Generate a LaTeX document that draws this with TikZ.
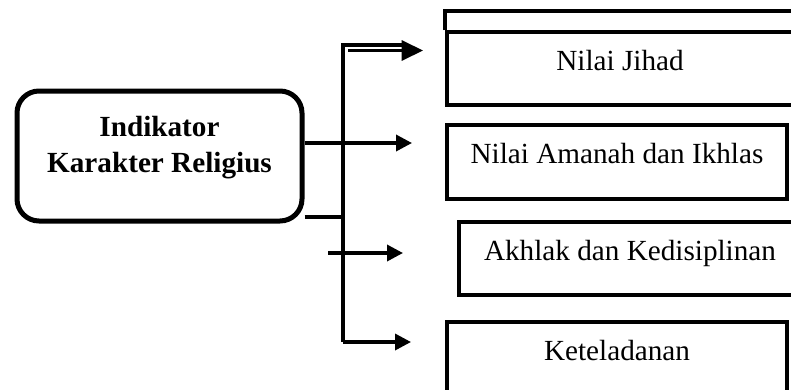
\documentclass[tikz,border=0pt]{standalone}
\usepackage{fontspec}
\setmainfont{Liberation Serif}
\usetikzlibrary{arrows.meta}

\tikzset{
  indbox/.style={draw, line width=3.75pt, rounded corners=16.5pt, minimum width=285*0.75pt, minimum height=130*0.75pt, inner sep=0pt},
  valbox/.style={draw, line width=3pt, inner sep=0pt, text height=15pt, text depth=12.75pt, font=\fontsize{21.9}{27}\selectfont},
  conn/.style={line width=2.6pt, line join=miter},
  arr/.style={conn, -{Triangle[length=12pt,width=12pt]}},
}

\begin{document}
\begin{tikzpicture}[x=0.75pt,y=0.75pt,yscale=-1,xscale=1]
      \clip (0,0) rectangle (791,389);

      % Indikator box
      \node [indbox] (ind) at (159.5,156) {};
      \node [font=\bfseries\fontsize{21.9}{27}\selectfont, align=center] (indtext) at (159.5,148) {Indikator\\Karakter Religius};

      % Value boxes
      \node [valbox, minimum width=346*0.75pt, minimum height=73*0.75pt] (jihad) at (620,68.5) {Nilai Jihad};
      \node [valbox, minimum width=340*0.75pt, minimum height=74*0.75pt] (amanah) at (617,162) {Nilai Amanah dan Ikhlas};
      \node [valbox, minimum width=342*0.75pt, minimum height=73*0.75pt] (akhlak) at (630,258.5) {Akhlak dan Kedisiplinan};
      \node [valbox, minimum width=340*0.75pt, minimum height=74*0.75pt] (teladan) at (617,359) {Keteladanan};
      % strip above Nilai Jihad
      \draw [line width=3pt] (jihad.north west) -- ++(0,-19) -| (jihad.north east);

      % Trunk and arrow ends
      \coordinate (tt) at (343,45);
      \coordinate (tb) at (343,342);
      \coordinate (b1) at (343,217);
      \coordinate (s1) at (348,50.5);
      \coordinate (e1) at (423,50.5);
      \coordinate (e2) at (412,143);
      \coordinate (s3) at (328,253);
      \coordinate (e3) at (403,253);
      \coordinate (e4) at (411,342);

      \draw [conn] (402,45) -- (tt) -- (tb);
      \draw [conn] (ind.east |- b1) -- (b1);
      \draw [conn, -{Triangle[length=16pt,width=15pt]}] (s1) -- (e1);
      \draw [arr] (ind.east |- e2) -- (e2);
      \draw [arr] (s3) -- (e3);
      \draw [arr] (tb) -- (e4);
\end{tikzpicture}
\end{document}
